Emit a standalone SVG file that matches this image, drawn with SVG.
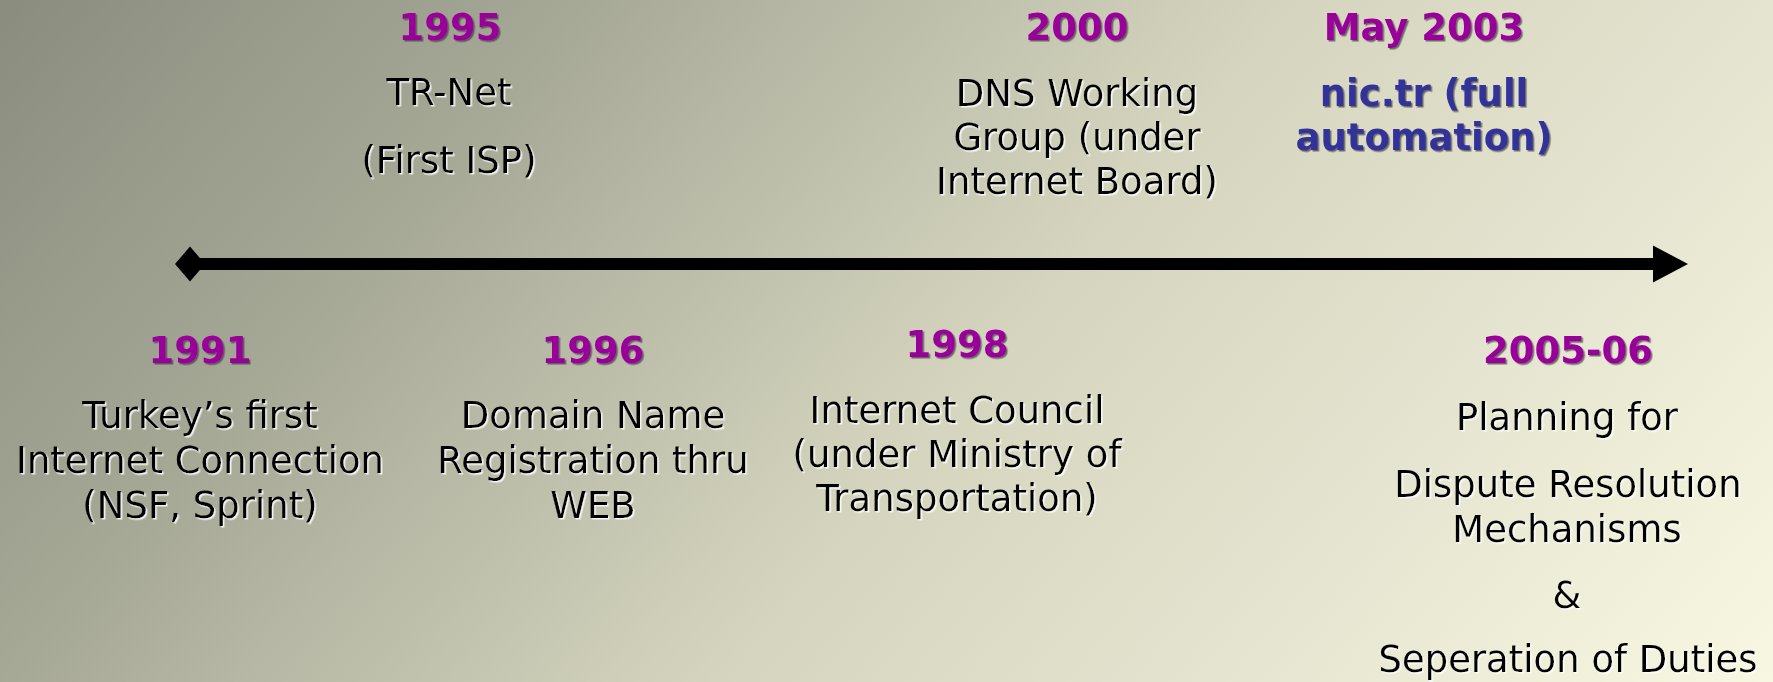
<svg xmlns="http://www.w3.org/2000/svg" width="1773" height="682" viewBox="0 0 1773 682">
<defs>
<linearGradient id="bg" gradientUnits="userSpaceOnUse" x1="0" y1="0" x2="1371" y2="1157">
<stop offset="0" stop-color="#8a8c7e"/>
<stop offset="0.25" stop-color="#a7a997"/>
<stop offset="0.55" stop-color="#d5d5bf"/>
<stop offset="0.75" stop-color="#e3e3cf"/>
<stop offset="1" stop-color="#f8f8e2"/>
</linearGradient>
<filter id="shL" x="-5%" y="-20%" width="110%" height="140%">
<feDropShadow dx="1.5" dy="1.5" stdDeviation="0.3" flood-color="#ffffff" flood-opacity="0.85"/>
</filter>
<filter id="shD" x="-5%" y="-20%" width="110%" height="140%">
<feDropShadow dx="1.5" dy="1.5" stdDeviation="0.3" flood-color="#3a3a3a" flood-opacity="0.7"/>
</filter>
<marker id="arrow" markerUnits="userSpaceOnUse" markerWidth="36" markerHeight="38" refX="7" refY="18.5" orient="auto" overflow="visible">
<path d="M0,0 L35,18.5 L0,37 Z" fill="#000"/>
</marker>
<marker id="diamond" markerUnits="userSpaceOnUse" markerWidth="31" markerHeight="36" refX="15" refY="17.5" orient="auto" overflow="visible">
<path d="M0,17.5 L15,0 L30,17.5 L15,35 Z" fill="#000"/>
</marker>
</defs>
<style>
text { font-family: "DejaVu Sans", Verdana, sans-serif; font-size: 37px; text-anchor: middle; }
.yr { font-weight: bold; fill: #990099; filter: url(#shD); }
.body { fill: #000000; filter: url(#shL); }
.nic { font-weight: bold; fill: #333399; filter: url(#shD); }
</style>
<rect x="0" y="0" width="1773" height="682" fill="url(#bg)"/>

<g id="connectors">
<path d="M190,264 H1660" stroke="#000" stroke-width="12" fill="none" marker-start="url(#diamond)" marker-end="url(#arrow)"/>
</g>

<g id="node-1995">
<text class="yr" x="450" y="40">1995</text>
<text class="body" x="449" y="105">TR-Net</text>
<text class="body" x="449" y="173">(First ISP)</text>
</g>

<g id="node-2000">
<text class="yr" x="1077" y="40">2000</text>
<text class="body" x="1077" y="106">DNS Working</text>
<text class="body" x="1077" y="150">Group (under</text>
<text class="body" x="1077" y="194">Internet Board)</text>
</g>

<g id="node-2003">
<text class="yr" x="1424" y="40">May 2003</text>
<text class="nic" x="1424" y="106">nic.tr (full</text>
<text class="nic" x="1424" y="150">automation)</text>
</g>

<g id="node-1991">
<text class="yr" x="200" y="363">1991</text>
<text class="body" x="200" y="428">Turkey’s first</text>
<text class="body" x="200" y="473">Internet Connection</text>
<text class="body" x="200" y="518">(NSF, Sprint)</text>
</g>

<g id="node-1996">
<text class="yr" x="593" y="363">1996</text>
<text class="body" x="593" y="428">Domain Name</text>
<text class="body" x="593" y="473">Registration thru</text>
<text class="body" x="593" y="518">WEB</text>
</g>

<g id="node-1998">
<text class="yr" x="957" y="357">1998</text>
<text class="body" x="957" y="423">Internet Council</text>
<text class="body" x="957" y="467">(under Ministry of</text>
<text class="body" x="957" y="511">Transportation)</text>
</g>

<g id="node-2005">
<text class="yr" x="1568" y="363">2005-06</text>
<text class="body" x="1567" y="430">Planning for</text>
<text class="body" x="1568" y="497">Dispute Resolution</text>
<text class="body" x="1567" y="542">Mechanisms</text>
<text class="body" x="1567" y="608">&amp;</text>
<text class="body" x="1568" y="672">Seperation of Duties</text>
</g>
</svg>
